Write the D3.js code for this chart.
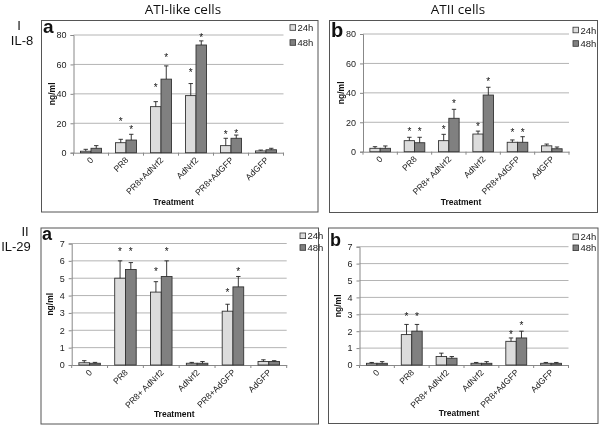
<!DOCTYPE html>
<html><head><meta charset="utf-8">
<script src="https://cdn.jsdelivr.net/npm/d3@7"></script>
<style>body{margin:0;background:#fff}svg{display:block;will-change:transform;-webkit-font-smoothing:antialiased}</style>
</head><body>
<svg id="c" width="600" height="426"></svg>
<script>
// ---- data ----
const catsA = ["0","PR8","PR8+AdNrf2","AdNrf2","PR8+AdGFP","AdGFP"];
const catsB = ["0","PR8","PR8+ AdNrf2","AdNrf2","PR8+AdGFP","AdGFP"];
const seriesNames = ["24h","48h"];

// I IL-8, ATI-like cells (a)
const il8a_24 = [1, 6.8, 31.3, 38.8, 4.8, 1.2];
const il8a_24err = [2.3, 9.1, 34.7, 47, 9.8, 1.8];
const il8a_48 = [3, 8.6, 50, 73.2, 9.8, 2];
const il8a_48err = [4.8, 12.5, 59, 76, 12, 3];
const il8a_24star = [null, 22, 45, 55.8, 13.6, null];
const il8a_48star = [null, 16.6, 66, 79, 13.8, null];
// I IL-8, ATII cells (b)
const il8b_24 = [2.3, 7.5, 7.5, 12, 6.4, 4];
const il8b_24err = [3.4, 9.8, 11.8, 14, 8, 5.2];
const il8b_48 = [2.3, 6.1, 22.7, 38.5, 6.4, 2];
const il8b_48err = [3.9, 9.8, 28.8, 43.8, 10.2, 3.2];
const il8b_24star = [null, 14.7, 15.9, 18, 14, null];
const il8b_48star = [null, 14.7, 33.6, 49, 14, null];
// II IL-29, ATI-like cells (a)
const il29a_24 = [0.13, 5.0, 4.2, 0.1, 3.1, 0.2];
const il29a_24err = [0.25, 6.0, 4.8, 0.15, 3.5, 0.3];
const il29a_48 = [0.1, 5.5, 5.1, 0.1, 4.5, 0.2];
const il29a_48err = [0.15, 5.9, 6.0, 0.2, 5.1, 0.25];
const il29a_24star = [null, 6.65, 5.5, null, 4.25, null];
const il29a_48star = [null, 6.65, 6.6, null, 5.5, null];
// II IL-29, ATII cells (b)
const il29b_24 = [0.1, 1.8, 0.5, 0.1, 1.4, 0.1];
const il29b_24err = [0.15, 2.4, 0.7, 0.15, 1.6, 0.15];
const il29b_48 = [0.1, 2.0, 0.4, 0.1, 1.6, 0.1];
const il29b_48err = [0.2, 2.4, 0.5, 0.2, 2.0, 0.15];
const il29b_24star = [null, 2.95, null, null, 1.87, null];
const il29b_48star = [null, 2.95, null, null, 2.4, null];

const il8Ticks = [0,20,40,60,80];
const il29Ticks = [0,1,2,3,4,5,6,7];

const colors = ["#dcdcdc", "#808080"];

const panels = [
  {letter:"a", cats:catsA, s:[[il8a_24,il8a_24err,il8a_24star],[il8a_48,il8a_48err,il8a_48star]], ticks:il8Ticks, max:80,
   box:[41.5,20.5,318,212], x0:73.5, x1:283.5, y0:152.7, y1:35, leg:[290,27.5,15], letterPos:[43,33,19]},
  {letter:"b", cats:catsB, s:[[il8b_24,il8b_24err,il8b_24star],[il8b_48,il8b_48err,il8b_48star]], ticks:il8Ticks, max:80,
   box:[329.5,20.5,597.5,212.5], x0:363, x1:569, y0:151.7, y1:34, leg:[573,30,13.5], letterPos:[331,36.5,20]},
  {letter:"a", cats:catsB, s:[[il29a_24,il29a_24err,il29a_24star],[il29a_48,il29a_48err,il29a_48star]], ticks:il29Ticks, max:7,
   box:[41,228,318.5,424], x0:71.7, x1:286.7, y0:365, y1:243.5, leg:[300,235.8,11.7], letterPos:[42,240,18]},
  {letter:"b", cats:catsB, s:[[il29b_24,il29b_24err,il29b_24star],[il29b_48,il29b_48err,il29b_48star]], ticks:il29Ticks, max:7,
   box:[328.5,228,598,423.5], x0:359.5, x1:568.5, y0:365, y1:246.7, leg:[573,236.8,11], letterPos:[330,245.5,18]}
];

const svg = d3.select("#c");
svg.append("rect").attr("width",600).attr("height",426).attr("fill","#fff");
const font = "'Liberation Sans', Arial, sans-serif";
const tfont = "'Open Sans', 'Liberation Sans', sans-serif";

// headings
svg.append("text").attr("x",183).attr("y",14).attr("text-anchor","middle").attr("font-family",tfont).attr("font-size",13.5).attr("fill","#111").text("ATI-like cells");
svg.append("text").attr("x",458).attr("y",14).attr("text-anchor","middle").attr("font-family",tfont).attr("font-size",13.5).attr("fill","#111").text("ATII cells");
const rowLbl = (txt, x, y) => svg.append("text").attr("x",x).attr("y",y).attr("text-anchor","middle")
  .attr("font-family",font).attr("font-size",13).attr("fill","#111").text(txt);
rowLbl("I",19,29.5);
rowLbl("IL-8",22,44.5);
rowLbl("II",25,235.5);
rowLbl("IL-29",16,250.5);

panels.forEach(p => {
  const g = svg.append("g");
  const [bx0,by0,bx1,by1] = p.box;
  g.append("rect").attr("x",bx0).attr("y",by0).attr("width",bx1-bx0).attr("height",by1-by0)
    .attr("fill","none").attr("stroke","#555").attr("stroke-width",1);

  const x = d3.scaleBand().domain(p.cats).range([p.x0,p.x1]).paddingInner(0.4).paddingOuter(0.2);
  const xo = d3.scaleBand().domain(p.cats).range([p.x0,p.x1]);
  const xs = d3.scaleBand().domain(seriesNames).range([0,x.bandwidth()]);
  const y = d3.scaleLinear().domain([0,p.max]).range([p.y0,p.y1]);

  // gridlines
  g.append("g").selectAll("line").data(p.ticks.filter(t=>t>0)).join("line")
    .attr("x1",p.x0).attr("x2",p.x1).attr("y1",d=>y(d)).attr("y2",d=>y(d))
    .attr("stroke","#b4b4b4").attr("stroke-width",1);

  // y axis
  const ya = d3.axisLeft(y).tickValues(p.ticks).tickFormat(d=>String(d)).tickSize(3).tickPadding(4);
  const yg = g.append("g").attr("transform",`translate(${p.x0},0)`).call(ya);
  yg.select(".domain").attr("stroke","#888");
  yg.selectAll(".tick line").attr("stroke","#888");
  yg.selectAll("text").attr("font-family",font).attr("font-size",9).attr("fill","#222");

  // x axis
  const xa = d3.axisBottom(xo).tickSize(0).tickFormat("");
  const xg = g.append("g").attr("transform",`translate(0,${p.y0})`).call(xa);
  xg.select(".domain").attr("stroke","#888");
  const bounds = d3.range(p.cats.length+1).map(i => p.x0 + i*xo.step());
  xg.selectAll(".bt").data(bounds).join("line").attr("class","bt")
    .attr("x1",d=>d).attr("x2",d=>d).attr("y1",0).attr("y2",3).attr("stroke","#888");
  xg.selectAll(".cl").data(p.cats).join("text").attr("class","cl")
    .attr("transform",d=>`translate(${xo(d)+xo.bandwidth()/2+3},${8}) rotate(-45)`)
    .attr("text-anchor","end").attr("font-family",font).attr("font-size",8.6).attr("fill","#222")
    .text(d=>d);

  // bars
  p.s.forEach((ser,si) => {
    const [vals,errs,stars] = ser;
    const data = p.cats.map((c,i)=>({c, v:vals[i], e:errs[i], s:stars[i]}));
    const sg = g.append("g");
    sg.selectAll("rect").data(data).join("rect")
      .attr("x",d=>x(d.c)+xs(seriesNames[si])).attr("width",xs.bandwidth())
      .attr("y",d=>y(d.v)).attr("height",d=>y(0)-y(d.v))
      .attr("fill",colors[si]).attr("stroke","#333").attr("stroke-width",0.9);
    const cx = d => x(d.c)+xs(seriesNames[si])+xs.bandwidth()/2;
    sg.selectAll(".ev").data(data).join("line").attr("class","ev")
      .attr("x1",cx).attr("x2",cx).attr("y1",d=>y(d.v)).attr("y2",d=>y(d.e)).attr("stroke","#222").attr("stroke-width",0.9);
    sg.selectAll(".ec").data(data).join("line").attr("class","ec")
      .attr("x1",d=>cx(d)-2.2).attr("x2",d=>cx(d)+2.2).attr("y1",d=>y(d.e)).attr("y2",d=>y(d.e)).attr("stroke","#222").attr("stroke-width",0.9);
    sg.selectAll(".st").data(data.filter(d=>d.s!=null)).join("text").attr("class","st")
      .attr("x",cx).attr("y",d=>y(d.s)+5).attr("text-anchor","middle")
      .attr("font-family",font).attr("font-size",10).attr("fill","#111").text("*");
  });

  // axis titles
  g.append("text").attr("x",(p.x0+p.x1)/2-5).attr("y",by1-7.5).attr("text-anchor","middle")
    .attr("font-family",font).attr("font-weight","bold").attr("font-size",8.5).attr("fill","#111").text("Treatment");
  g.append("text").attr("transform",`translate(${p.x0-19},${(p.y0+p.y1)/2}) rotate(-90)`).attr("text-anchor","middle")
    .attr("font-family",font).attr("font-weight","bold").attr("font-size",8.5).attr("fill","#111").text("ng/ml");

  // panel letter
  g.append("text").attr("x",p.letterPos[0]).attr("y",p.letterPos[1]).attr("font-family",font)
    .attr("font-weight","bold").attr("font-size",p.letterPos[2]).attr("fill","#111").text(p.letter);

  // legend
  const [lx,ly,ld] = p.leg;
  seriesNames.forEach((n,i) => {
    g.append("rect").attr("x",lx).attr("y",ly+i*ld-2.8).attr("width",5.6).attr("height",5.6)
      .attr("fill",colors[i]).attr("stroke","#333").attr("stroke-width",0.8);
    g.append("text").attr("x",lx+7.5).attr("y",ly+i*ld+3.6).attr("font-family",font).attr("font-size",9.5).attr("fill","#222").text(n);
  });
});
</script>
</body></html>
